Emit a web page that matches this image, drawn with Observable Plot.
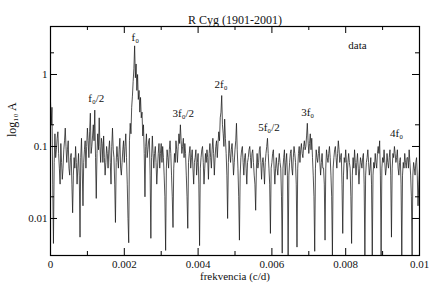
<!DOCTYPE html>
<html><head><meta charset="utf-8">
<script src="https://cdn.jsdelivr.net/npm/d3@7"></script>
<script src="https://cdn.jsdelivr.net/npm/@observablehq/plot@0.6"></script>
<style>body{margin:0;background:#fff} svg text{font-family:'Liberation Serif','DejaVu Serif',serif}</style>
</head><body><div id="chart"></div>
<script>
const freqStep = 0.00002;
const amplitude = [
0.42,0.2,0.35,0.03,0.0045,0.06,0.15,0.07,0.09,0.13,0.16,0.08,0.05,0.03,0.11,0.06,0.035,0.05,0.09,0.12,
0.18,0.1,0.06,0.09,0.12,0.05,0.04,0.07,0.08,0.03,0.012,0.04,0.07,0.05,0.1,0.06,0.03,0.05,0.08,0.04,
0.0055,0.07,0.13,0.05,0.015,0.06,0.09,0.12,0.05,0.1,0.18,0.12,0.07,0.16,0.29,0.08,0.1,0.14,0.2,0.12,
0.32,0.07,0.019,0.08,0.15,0.09,0.25,0.1,0.06,0.13,0.11,0.06,0.14,0.07,0.04,0.06,0.1,0.08,0.05,0.09,
0.12,0.06,0.03,0.1,0.18,0.09,0.07,0.03,0.0088,0.06,0.1,0.07,0.05,0.09,0.13,0.05,0.04,0.06,0.09,0.12,
0.06,0.1,0.15,0.07,0.03,0.01,0.0046,0.12,0.21,0.15,0.35,0.5,0.8,1.2,2.5,0.9,1.4,0.6,1.0,0.45,
0.6,0.3,0.48,0.25,0.3,0.14,0.2,0.08,0.02,0.1,0.15,0.07,0.09,0.12,0.13,0.04,0.0053,0.07,0.14,0.08,
0.05,0.08,0.1,0.06,0.03,0.05,0.08,0.11,0.05,0.08,0.11,0.06,0.1,0.07,0.04,0.02,0.0036,0.05,0.09,0.07,
0.05,0.09,0.12,0.08,0.04,0.02,0.0075,0.05,0.08,0.06,0.12,0.09,0.06,0.1,0.15,0.11,0.2,0.12,0.08,0.1,
0.13,0.07,0.11,0.08,0.04,0.02,0.0073,0.06,0.08,0.1,0.05,0.07,0.09,0.05,0.03,0.06,0.07,0.09,0.04,0.06,
0.08,0.03,0.0042,0.05,0.07,0.09,0.1,0.06,0.03,0.05,0.08,0.06,0.09,0.07,0.035,0.08,0.11,0.07,0.05,0.09,
0.13,0.08,0.04,0.07,0.1,0.12,0.07,0.11,0.16,0.12,0.25,0.3,0.51,0.2,0.15,0.1,0.24,0.13,0.08,0.04,
0.01,0.06,0.12,0.08,0.06,0.09,0.11,0.07,0.04,0.06,0.09,0.12,0.21,0.09,0.05,0.02,0.005,0.04,0.07,0.09,
0.1,0.06,0.04,0.07,0.08,0.05,0.03,0.06,0.07,0.09,0.1,0.07,0.05,0.08,0.09,0.06,0.04,0.03,0.013,0.05,
0.08,0.05,0.06,0.09,0.1,0.06,0.035,0.06,0.07,0.05,0.03,0.06,0.08,0.1,0.13,0.08,0.05,0.03,0.0062,0.05,
0.06,0.08,0.09,0.05,0.03,0.05,0.07,0.05,0.04,0.06,0.08,0.06,0.05,0.02,0.0033,0.05,0.07,0.09,0.04,0.06,
0.08,0.04,0.0031,0.04,0.06,0.08,0.09,0.05,0.04,0.07,0.1,0.08,0.06,0.03,0.004,0.05,0.08,0.1,0.06,0.09,
0.11,0.08,0.07,0.1,0.12,0.09,0.1,0.14,0.21,0.12,0.08,0.11,0.15,0.09,0.13,0.07,0.04,0.02,0.0035,0.05,
0.09,0.07,0.06,0.08,0.1,0.06,0.04,0.06,0.08,0.05,0.05,0.03,0.005,0.05,0.09,0.07,0.06,0.08,0.1,0.07,
0.04,0.02,0.0031,0.05,0.07,0.09,0.1,0.07,0.05,0.08,0.12,0.09,0.06,0.07,0.08,0.03,0.0062,0.04,0.07,0.06,
0.09,0.06,0.035,0.06,0.08,0.06,0.05,0.02,0.0045,0.04,0.07,0.05,0.09,0.06,0.04,0.06,0.08,0.05,0.03,0.05,
0.07,0.06,0.05,0.07,0.08,0.03,0.0031,0.04,0.06,0.07,0.09,0.06,0.04,0.05,0.07,0.03,0.0031,0.04,0.06,0.05,
0.08,0.06,0.05,0.08,0.1,0.08,0.12,0.04,0.0031,0.05,0.07,0.06,0.09,0.06,0.04,0.05,0.08,0.06,0.05,0.07,
0.09,0.04,0.0055,0.05,0.08,0.07,0.1,0.08,0.06,0.07,0.09,0.05,0.04,0.06,0.07,0.03,0.0031,0.04,0.06,0.05,
0.08,0.06,0.05,0.07,0.07,0.05,0.09,0.06,0.04,0.02,0.0031,0.04,0.06,0.05,0.04,0.06,0.07,0.04,0.015,0.03,0.05
];
const xTicks = [0, 0.002, 0.004, 0.006, 0.008, 0.01];
const xTickLabels = ["0", "0.002", "0.004", "0.006", "0.008", "0.01"];
const xMinorTicks = [0.001, 0.003, 0.005, 0.007, 0.009];
const yTicks = [1, 0.1, 0.01];
const yTickLabels = ["1", "0.1", "0.01"];
const yMinorTicks = [2, 0.2, 0.02];
const peakLabels = ["f₀", "f₀/2", "3f₀/2", "2f₀", "5f₀/2", "3f₀", "4f₀", "data"];
const peakFreq = [0.0023, 0.00124, 0.0036, 0.00462, 0.00592, 0.00697, 0.00938, 0.00832];
const peakAmp = [3.26, 0.464, 0.287, 0.726, 0.184, 0.297, 0.151, 2.53];

const spectrum = amplitude.map((a, i) => ({f: i * freqStep, a}));
const labels = peakLabels.map((t, i) => ({t, f: peakFreq[i], a: peakAmp[i]}));

const W = 430, H = 283, mL = 50, mR = 11, mT = 26, mB = 28;
const innerW = W - mL - mR, innerH = H - mT - mB;
const FF = "'Liberation Serif', 'DejaVu Serif', serif";

const chart = Plot.plot({
  width: W, height: H,
  marginLeft: mL, marginRight: mR, marginTop: mT, marginBottom: mB,
  style: {fontFamily: FF, fontSize: "11px", background: "#fff", color: "#111"},
  x: {domain: [0, 0.01]},
  y: {type: "log", domain: [0.00306, 4.64]},
  marks: [
    Plot.line(spectrum, {x: "f", y: "a", stroke: "#1a1a1a", strokeWidth: 0.75, clip: true}),
    Plot.frame({stroke: "#000", strokeWidth: 1.2}),
    Plot.ruleX(xTicks, {x: d => d, insetTop: innerH - 7, stroke: "#000"}),
    Plot.ruleX(xTicks, {x: d => d, insetBottom: innerH - 7, stroke: "#000"}),
    Plot.ruleX(xMinorTicks, {x: d => d, insetTop: innerH - 4, stroke: "#000"}),
    Plot.ruleX(xMinorTicks, {x: d => d, insetBottom: innerH - 4, stroke: "#000"}),
    Plot.ruleY(yTicks, {y: d => d, insetRight: innerW - 7, stroke: "#000"}),
    Plot.ruleY(yTicks, {y: d => d, insetLeft: innerW - 7, stroke: "#000"}),
    Plot.ruleY(yMinorTicks, {y: d => d, insetRight: innerW - 4, stroke: "#000"}),
    Plot.ruleY(yMinorTicks, {y: d => d, insetLeft: innerW - 4, stroke: "#000"}),
    Plot.axisX(xTicks, {tickSize: 0, tickPadding: 5, fontSize: 11, fontFamily: FF, tickFormat: d => xTickLabels[xTicks.indexOf(d)], label: null}),
    Plot.axisY(yTicks, {tickSize: 0, tickPadding: 3, fontSize: 11, fontFamily: FF, tickFormat: d => yTickLabels[yTicks.indexOf(d)], label: null}),
    Plot.text(labels, {x: "f", y: "a", text: "t", fontSize: 11, fontFamily: FF, fill: "#111"}),
    Plot.text(["R Cyg (1901-2001)"], {frameAnchor: "top", dy: -11, fontSize: 12, fontFamily: FF, fill: "#111"}),
    Plot.text(["frekvencia (c/d)"], {frameAnchor: "bottom", dy: 24, fontSize: 11, fontFamily: FF, fill: "#111"}),
    Plot.text(["log₁₀ A"], {frameAnchor: "left", dx: -38, dy: -4, rotate: -90, fontSize: 12, fontFamily: FF, fill: "#111"})
  ]
});
document.getElementById("chart").appendChild(chart);
</script>
</body></html>
